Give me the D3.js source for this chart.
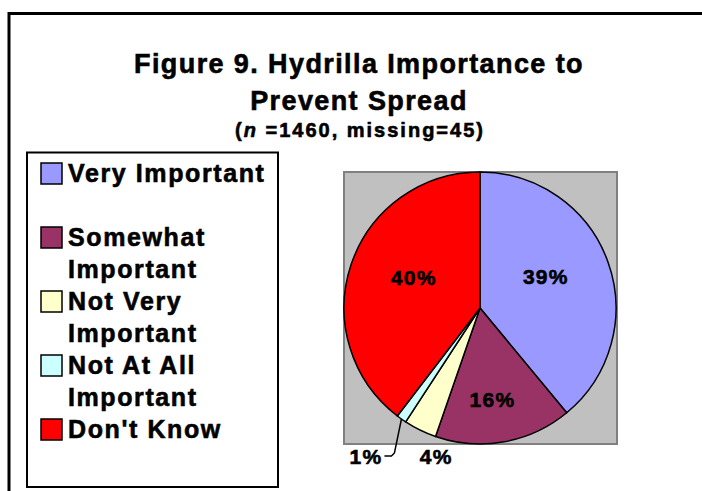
<!DOCTYPE html>
<html lang="en">
<head>
    <meta charset="UTF-8">
    <title>Figure 9. Hydrilla Importance to Prevent Spread</title>
    <script src="https://d3js.org/d3.v7.min.js"></script>
    <style>
        body { margin: 0; background: white; }
        text { font-family: "Liberation Sans", Arial, sans-serif; font-weight: bold; fill: black; stroke: black; stroke-width: 0.6px; }
    </style>
</head>
<body>
<div id="myDiv"></div>
<script>
// chart data
const categories = ["Very Important", "Somewhat Important", "Not Very Important", "Not At All Important", "Don't Know"];
const percents = [39.0, 16.3, 3.9, 1.2, 39.6];
const legendLines = [["Very Important", ""], ["Somewhat", "Important"], ["Not Very", "Important"], ["Not At All", "Important"], ["Don't Know"]];
const colors = ["#9999FF", "#993366", "#FFFFCC", "#CCFFFF", "#FF0000"];
const titleLines = ["Figure 9. Hydrilla Importance to", "Prevent Spread"];

const data = categories.map(function (c, i) {
    return { name: c, value: percents[i], lines: legendLines[i] };
});

// svg container
let svgContainer = d3.select("#myDiv").append("svg")
    .attr("width", 702)
    .attr("height", 491);

// outer chart border (cropped at right and bottom)
svgContainer.append("rect")
    .attr("x", 9)
    .attr("y", 13.5)
    .attr("width", 720)
    .attr("height", 500)
    .attr("fill", "white")
    .attr("stroke", "black")
    .attr("stroke-width", 3);

// title
svgContainer.selectAll(".title")
    .data(titleLines)
    .enter()
    .append("text")
        .attr("class", "title")
        .attr("x", 359)
        .attr("y", function (d, i) { return 73 + i * 37; })
        .attr("text-anchor", "middle")
        .attr("font-size", "27px")
        .attr("letter-spacing", "1.4px")
        .text(function (d) { return d; });

let sub = svgContainer.append("text")
    .attr("x", 360)
    .attr("y", 137)
    .attr("text-anchor", "middle")
    .attr("font-size", "20px")
    .attr("letter-spacing", "2px");
sub.append("tspan").text("(");
sub.append("tspan").attr("font-style", "italic").text("n");
sub.append("tspan").text(" =1460, missing=45)");

// legend box
svgContainer.append("rect")
    .attr("x", 27)
    .attr("y", 152.5)
    .attr("width", 251)
    .attr("height", 334.5)
    .attr("fill", "white")
    .attr("stroke", "black")
    .attr("stroke-width", 2);

let lineStart = 0;
data.forEach(function (d) {
    d.line = lineStart;
    lineStart += d.lines.length;
});
let lineY = d3.scaleLinear().domain([0, 1]).range([182, 214]);

let legend = svgContainer.selectAll(".legend")
    .data(data)
    .enter()
    .append("g")
        .attr("class", "legend");

legend.append("rect")
    .attr("x", 41)
    .attr("y", function (d) { return lineY(d.line) - 19; })
    .attr("width", 21)
    .attr("height", 21)
    .attr("fill", function (d, i) { return colors[i]; })
    .attr("stroke", "black")
    .attr("stroke-width", 1.5);

legend.append("text")
    .attr("font-size", "25px")
    .attr("letter-spacing", "1.6px")
    .selectAll("tspan")
    .data(function (d) { return d.lines.map(function (t, j) { return { t: t, line: d.line + j }; }); })
    .enter()
    .append("tspan")
        .attr("x", 68)
        .attr("y", function (d) { return lineY(d.line); })
        .text(function (d) { return d.t; });

// plot area
svgContainer.append("rect")
    .attr("x", 344)
    .attr("y", 172)
    .attr("width", 273)
    .attr("height", 272)
    .attr("fill", "#C0C0C0")
    .attr("stroke", "#808080")
    .attr("stroke-width", 2);

// pie
const cx = 480, cy = 308, r = 136;
let pie = d3.pie().sort(null).value(function (d) { return d.value; });
let arc = d3.arc().innerRadius(0).outerRadius(r);
let arcs = pie(data);

let pieG = svgContainer.append("g")
    .attr("transform", "translate(" + cx + "," + cy + ")");

pieG.selectAll("path")
    .data(arcs)
    .enter()
    .append("path")
        .attr("d", arc)
        .attr("fill", function (d, i) { return colors[i]; })
        .attr("stroke", "black")
        .attr("stroke-width", 1.5)
        .attr("stroke-linejoin", "round");

// data labels
function mid(d) { return (d.startAngle + d.endAngle) / 2; }
function pct(d) { return Math.round(d.data.value) + "%"; }

arcs.forEach(function (d) {
    let a = mid(d);
    let ex = Math.sin(a) * r, ey = -Math.cos(a) * r;
    if (d.data.value >= 5) {
        // inside label
        pieG.append("text")
            .attr("x", Math.sin(a) * 70)
            .attr("y", -Math.cos(a) * 93 + 7)
            .attr("text-anchor", "middle")
            .attr("font-size", "21px")
            .attr("letter-spacing", "1.3px")
            .text(pct(d));
    } else if (d.data.value >= 2) {
        // outside label below pie
        pieG.append("text")
            .attr("x", ex + 16)
            .attr("y", r + 20)
            .attr("text-anchor", "middle")
            .attr("font-size", "21px")
            .attr("letter-spacing", "1.3px")
            .text(pct(d));
    } else {
        // outside label with leader line
        pieG.append("path")
            .attr("d", "M" + ex + "," + ey + "L" + (ex - 7) + "," + (r + 9) + "L" + (ex - 10) + "," + (r + 12) + "L" + (ex - 17) + "," + (r + 12))
            .attr("fill", "none")
            .attr("stroke", "black")
            .attr("stroke-width", 1.5);
        pieG.append("text")
            .attr("x", ex - 19)
            .attr("y", r + 20)
            .attr("text-anchor", "end")
            .attr("font-size", "21px")
            .attr("letter-spacing", "1.3px")
            .text(pct(d));
    }
});
</script>
</body>
</html>
